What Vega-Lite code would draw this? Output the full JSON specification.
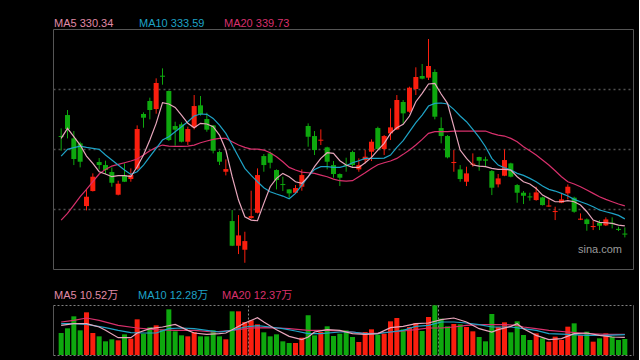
{
"$schema": "https://vega.github.io/schema/vega-lite/v6.json",
"background": "#000000",
"autosize": {"type": "pad"},
"padding": {"left": 42, "top": 17, "right": 5, "bottom": 4},
"bounds": "flush",
"spacing": 36,
"datasets": {
"k": [
{"i":1,"o":372.60,"h":376.21,"l":365.70,"c":372.10,"v":13.2,"m5":371.50,"m10":363.18,"m20":333.04},
{"i":2,"o":382.49,"h":384.85,"l":371.50,"c":375.90,"v":16.0,"m5":376.21,"m10":366.32,"m20":336.18},
{"i":3,"o":371.50,"h":374.96,"l":358.94,"c":361.77,"v":23.2,"m5":372.29,"m10":367.11,"m20":340.10},
{"i":4,"o":369.15,"h":369.93,"l":357.85,"c":360.51,"v":14.8,"m5":368.36,"m10":367.89,"m20":344.03},
{"i":5,"o":339.63,"h":347.64,"l":337.59,"c":344.03,"v":25.6,"m5":363.18,"m10":367.27,"m20":347.48},
{"i":6,"o":346.70,"h":355.02,"l":346.50,"c":353.45,"v":13.2,"m5":359.73,"m10":366.79,"m20":351.09},
{"i":7,"o":360.36,"h":362.24,"l":356.90,"c":358.94,"v":11.2,"m5":355.80,"m10":366.32,"m20":354.71},
{"i":8,"o":358.94,"h":360.99,"l":354.71,"c":356.59,"v":8.2,"m5":354.71,"m10":363.65,"m20":356.90},
{"i":9,"o":355.65,"h":357.85,"l":348.74,"c":350.62,"v":9.4,"m5":353.45,"m10":361.30,"m20":358.47},
{"i":10,"o":344.97,"h":351.57,"l":344.66,"c":350.15,"v":8.8,"m5":353.92,"m10":358.94,"m20":359.26},
{"i":11,"o":354.08,"h":359.73,"l":350.94,"c":351.09,"v":12.4,"m5":353.92,"m10":356.59,"m20":360.04},
{"i":12,"o":352.35,"h":357.37,"l":351.09,"c":354.23,"v":9.8,"m5":353.45,"m10":354.55,"m20":360.83},
{"i":13,"o":357.22,"h":377.63,"l":356.59,"c":375.90,"v":21.4,"m5":358.16,"m10":355.80,"m20":361.77},
{"i":14,"o":382.97,"h":383.75,"l":376.53,"c":381.24,"v":12.8,"m5":363.65,"m10":358.94,"m20":363.65},
{"i":15,"o":389.09,"h":390.66,"l":380.45,"c":384.85,"v":16.6,"m5":370.72,"m10":362.87,"m20":365.70},
{"i":16,"o":385.32,"h":399.76,"l":383.12,"c":397.57,"v":17.8,"m5":378.57,"m10":366.79,"m20":367.27},
{"i":17,"o":401.02,"h":404.47,"l":396.78,"c":400.52,"v":15.2,"m5":388.30,"m10":370.72,"m20":368.36},
{"i":18,"o":393.80,"h":394.00,"l":370.25,"c":370.72,"v":27.4,"m5":387.68,"m10":372.29,"m20":367.89},
{"i":19,"o":377.31,"h":379.35,"l":368.05,"c":375.59,"v":14.2,"m5":386.11,"m10":374.64,"m20":367.74},
{"i":20,"o":378.10,"h":379.04,"l":369.62,"c":369.93,"v":11.8,"m5":382.49,"m10":377.00,"m20":367.74},
{"i":21,"o":369.93,"h":377.00,"l":368.36,"c":375.90,"v":11.2,"m5":378.57,"m10":379.35,"m20":367.89},
{"i":22,"o":376.69,"h":391.91,"l":375.74,"c":386.73,"v":13.8,"m5":376.53,"m10":382.02,"m20":368.36},
{"i":23,"o":387.05,"h":391.44,"l":382.18,"c":382.97,"v":11.2,"m5":378.57,"m10":382.97,"m20":369.46},
{"i":24,"o":380.61,"h":383.59,"l":374.64,"c":375.59,"v":11.2,"m5":378.26,"m10":382.81,"m20":370.25},
{"i":25,"o":377.63,"h":377.80,"l":364.44,"c":365.70,"v":14.8,"m5":377.00,"m10":380.92,"m20":371.03},
{"i":26,"o":365.07,"h":365.70,"l":358.94,"c":360.51,"v":11.2,"m5":373.07,"m10":377.78,"m20":371.50},
{"i":27,"o":355.80,"h":361.61,"l":354.08,"c":357.06,"v":9.4,"m5":366.01,"m10":373.86,"m20":371.50},
{"i":28,"o":332.57,"h":337.75,"l":320.79,"c":320.95,"v":26.2,"m5":353.45,"m10":368.36,"m20":369.93},
{"i":29,"o":320.95,"h":335.39,"l":317.03,"c":325.82,"v":26.2,"m5":342.46,"m10":362.87,"m20":368.36},
{"i":30,"o":319.07,"h":327.54,"l":312.94,"c":323.15,"v":19.8,"m5":334.61,"m10":357.37,"m20":367.27},
{"i":31,"o":333.98,"h":346.86,"l":333.67,"c":334.92,"v":20.8,"m5":333.04,"m10":354.08,"m20":366.48},
{"i":32,"o":336.49,"h":357.37,"l":336.18,"c":354.23,"v":18.4,"m5":332.73,"m10":351.09,"m20":366.48},
{"i":33,"o":363.18,"h":364.13,"l":355.80,"c":358.94,"v":13.6,"m5":340.89,"m10":348.27,"m20":366.01},
{"i":34,"o":364.44,"h":365.22,"l":357.37,"c":360.04,"v":11.2,"m5":348.74,"m10":346.38,"m20":364.75},
{"i":35,"o":356.59,"h":356.90,"l":347.48,"c":351.88,"v":12.4,"m5":352.66,"m10":345.29,"m20":362.87},
{"i":36,"o":350.00,"h":353.45,"l":346.70,"c":349.53,"v":8.2,"m5":355.02,"m10":344.34,"m20":360.51},
{"i":37,"o":347.48,"h":347.60,"l":343.56,"c":345.60,"v":7.2,"m5":353.45,"m10":343.09,"m20":357.85},
{"i":38,"o":345.91,"h":349.53,"l":345.60,"c":348.11,"v":7.2,"m5":351.09,"m10":345.60,"m20":356.59},
{"i":39,"o":348.74,"h":356.90,"l":346.86,"c":354.23,"v":10.4,"m5":350.31,"m10":349.52,"m20":355.65},
{"i":40,"o":377.31,"h":378.57,"l":367.58,"c":372.29,"v":23.8,"m5":353.45,"m10":353.45,"m20":355.33},
{"i":41,"o":372.60,"h":374.96,"l":363.66,"c":366.01,"v":11.8,"m5":358.16,"m10":356.90,"m20":355.02},
{"i":42,"o":370.40,"h":375.74,"l":368.36,"c":370.88,"v":13.8,"m5":362.08,"m10":358.16,"m20":354.23},
{"i":43,"o":367.27,"h":367.58,"l":356.90,"c":360.51,"v":17.2,"m5":364.75,"m10":358.16,"m20":353.45},
{"i":44,"o":358.94,"h":360.83,"l":352.98,"c":354.71,"v":11.4,"m5":364.44,"m10":357.85,"m20":352.35},
{"i":45,"o":354.71,"h":355.02,"l":349.05,"c":352.98,"v":12.8,"m5":360.99,"m10":357.85,"m20":351.57},
{"i":46,"o":359.10,"h":362.40,"l":355.80,"c":358.60,"v":14.8,"m5":358.94,"m10":358.63,"m20":351.41},
{"i":47,"o":365.07,"h":365.70,"l":358.16,"c":358.94,"v":10.8,"m5":357.85,"m10":360.04,"m20":351.57},
{"i":48,"o":356.90,"h":362.08,"l":355.80,"c":358.94,"v":7.8,"m5":357.85,"m10":360.99,"m20":353.45},
{"i":49,"o":361.30,"h":366.01,"l":359.73,"c":362.87,"v":13.8,"m5":360.04,"m10":362.08,"m20":355.33},
{"i":50,"o":365.22,"h":371.03,"l":360.83,"c":369.93,"v":15.4,"m5":362.56,"m10":362.08,"m20":357.37},
{"i":51,"o":376.37,"h":377.00,"l":366.01,"c":366.48,"v":12.2,"m5":366.01,"m10":362.08,"m20":359.10},
{"i":52,"o":366.48,"h":373.07,"l":363.66,"c":372.60,"v":12.8,"m5":369.15,"m10":362.24,"m20":360.04},
{"i":53,"o":373.86,"h":385.63,"l":370.72,"c":376.69,"v":20.2,"m5":373.86,"m10":363.65,"m20":360.83},
{"i":54,"o":375.74,"h":391.91,"l":375.43,"c":389.56,"v":22.2,"m5":376.53,"m10":367.27,"m20":362.08},
{"i":55,"o":388.62,"h":389.56,"l":378.26,"c":383.28,"v":15.4,"m5":378.10,"m10":370.41,"m20":363.97},
{"i":56,"o":384.06,"h":395.84,"l":383.59,"c":395.37,"v":16.8,"m5":382.02,"m10":374.64,"m20":366.01},
{"i":57,"o":394.74,"h":404.95,"l":391.91,"c":400.39,"v":19.2,"m5":388.77,"m10":378.88,"m20":368.36},
{"i":58,"o":400.86,"h":406.52,"l":399.29,"c":399.61,"v":14.4,"m5":392.70,"m10":382.49,"m20":371.03},
{"i":59,"o":400.08,"h":418.29,"l":398.98,"c":405.57,"v":22.8,"m5":397.10,"m10":386.73,"m20":373.86},
{"i":60,"o":402.75,"h":404.00,"l":380.45,"c":381.71,"v":29.8,"m5":397.41,"m10":387.99,"m20":374.64},
{"i":61,"o":376.37,"h":381.40,"l":369.15,"c":372.60,"v":21.8,"m5":392.39,"m10":388.15,"m20":374.64},
{"i":62,"o":372.60,"h":373.07,"l":362.08,"c":362.56,"v":17.2,"m5":387.99,"m10":387.68,"m20":374.64},
{"i":63,"o":359.89,"h":366.01,"l":355.80,"c":360.40,"v":18.6,"m5":377.00,"m10":385.16,"m20":374.96},
{"i":64,"o":356.90,"h":358.94,"l":351.09,"c":352.35,"v":18.4,"m5":366.01,"m10":382.02,"m20":374.96},
{"i":65,"o":351.09,"h":358.16,"l":349.05,"c":355.02,"v":16.8,"m5":362.08,"m10":379.35,"m20":374.96},
{"i":66,"o":359.10,"h":364.44,"l":358.16,"c":359.60,"v":14.2,"m5":358.94,"m10":375.74,"m20":374.96},
{"i":67,"o":362.71,"h":362.87,"l":356.28,"c":360.99,"v":10.8,"m5":358.47,"m10":371.98,"m20":374.96},
{"i":68,"o":361.61,"h":362.87,"l":358.16,"c":360.99,"v":8.2,"m5":358.16,"m10":367.58,"m20":374.96},
{"i":69,"o":356.12,"h":356.59,"l":344.81,"c":348.27,"v":24.6,"m5":357.37,"m10":362.08,"m20":373.86},
{"i":70,"o":349.84,"h":354.71,"l":348.43,"c":352.66,"v":16.8,"m5":356.90,"m10":358.94,"m20":373.07},
{"i":71,"o":353.92,"h":366.32,"l":353.70,"c":361.30,"v":19.6,"m5":356.90,"m10":357.69,"m20":372.60},
{"i":72,"o":359.73,"h":360.04,"l":353.14,"c":353.45,"v":13.6,"m5":356.59,"m10":356.59,"m20":371.50},
{"i":73,"o":349.53,"h":350.00,"l":341.20,"c":345.91,"v":20.2,"m5":353.45,"m10":355.02,"m20":369.93},
{"i":74,"o":345.91,"h":346.70,"l":340.58,"c":344.50,"v":12.0,"m5":351.09,"m10":354.08,"m20":367.58},
{"i":75,"o":344.19,"h":345.91,"l":342.15,"c":343.70,"v":9.0,"m5":350.00,"m10":352.66,"m20":365.70},
{"i":76,"o":342.46,"h":348.74,"l":342.15,"c":346.07,"v":13.0,"m5":347.95,"m10":351.09,"m20":363.65},
{"i":77,"o":343.72,"h":344.03,"l":339.90,"c":340.10,"v":10.0,"m5":344.81,"m10":349.05,"m20":361.30},
{"i":78,"o":339.40,"h":342.77,"l":339.32,"c":339.90,"v":8.0,"m5":343.24,"m10":347.48,"m20":358.94},
{"i":79,"o":336.81,"h":339.32,"l":333.04,"c":337.30,"v":11.0,"m5":341.67,"m10":346.70,"m20":356.28},
{"i":80,"o":341.20,"h":345.60,"l":341.00,"c":342.77,"v":9.0,"m5":341.67,"m10":345.60,"m20":353.45},
{"i":81,"o":345.60,"h":349.84,"l":342.77,"c":348.74,"v":17.0,"m5":342.15,"m10":344.34,"m20":351.09},
{"i":82,"o":343.56,"h":344.03,"l":336.49,"c":336.96,"v":19.0,"m5":341.67,"m10":342.77,"m20":350.00},
{"i":83,"o":333.20,"h":336.18,"l":333.04,"c":333.70,"v":12.0,"m5":340.10,"m10":341.67,"m20":348.74},
{"i":84,"o":333.35,"h":333.82,"l":328.02,"c":331.16,"v":14.0,"m5":336.96,"m10":340.58,"m20":347.17},
{"i":85,"o":329.74,"h":332.73,"l":328.33,"c":330.24,"v":8.0,"m5":333.04,"m10":339.32,"m20":345.60},
{"i":86,"o":331.78,"h":333.04,"l":328.33,"c":330.37,"v":10.0,"m5":331.94,"m10":337.75,"m20":344.03},
{"i":87,"o":330.53,"h":334.30,"l":330.22,"c":333.35,"v":13.0,"m5":331.78,"m10":336.96,"m20":342.77},
{"i":88,"o":331.78,"h":334.30,"l":329.12,"c":331.16,"v":11.0,"m5":331.47,"m10":336.18,"m20":341.67},
{"i":89,"o":328.90,"h":329.90,"l":327.86,"c":328.40,"v":9.0,"m5":330.68,"m10":335.24,"m20":340.58},
{"i":90,"o":326.70,"h":329.59,"l":324.88,"c":326.20,"v":9.6,"m5":330.34,"m10":333.59,"m20":339.73}
],
"vm5": [
{"i":1,"v":17.8},{"i":3,"v":18.8},{"i":5,"v":18.8},{"i":7,"v":16.8},{"i":8,"v":14.8},{"i":10,"v":10.4},{"i":12,"v":10.4},{"i":13,"v":13.2},{"i":15,"v":15.8},{"i":17,"v":16.8},{"i":19,"v":18.4},{"i":21,"v":14.8},{"i":22,"v":13.2},{"i":24,"v":12.4},{"i":26,"v":12.8},{"i":27,"v":13.2},{"i":28,"v":15.2},{"i":30,"v":19.2},{"i":32,"v":22.4},{"i":33,"v":19.8},{"i":35,"v":15.2},{"i":37,"v":11.2},{"i":39,"v":9.2},{"i":40,"v":10.8},{"i":41,"v":13.8},{"i":43,"v":15.2},{"i":45,"v":14.8},{"i":47,"v":12.8},{"i":49,"v":12.4},{"i":51,"v":12.8},{"i":53,"v":16.4},{"i":55,"v":17.2},{"i":57,"v":18.8},{"i":59,"v":19.2},{"i":61,"v":21.2},{"i":63,"v":22.2},{"i":65,"v":19.8},{"i":67,"v":15.8},{"i":69,"v":13.8},{"i":70,"v":15.2},{"i":72,"v":17.2},{"i":73,"v":18.8},{"i":74,"v":15.8},{"i":76,"v":11.8},{"i":78,"v":9.2},{"i":80,"v":9.8},{"i":82,"v":12.8},{"i":84,"v":13.2},{"i":86,"v":11.8},{"i":88,"v":10.8},{"i":90,"v":10.52}
],
"vm10": [
{"i":1,"v":18.8},{"i":3,"v":18.8},{"i":5,"v":18.4},{"i":8,"v":16.4},{"i":10,"v":14.8},{"i":12,"v":13.4},{"i":14,"v":13.2},{"i":16,"v":13.2},{"i":18,"v":15.8},{"i":20,"v":16.2},{"i":22,"v":15.8},{"i":24,"v":14.8},{"i":26,"v":13.8},{"i":28,"v":14.8},{"i":30,"v":16.8},{"i":32,"v":17.6},{"i":34,"v":16.8},{"i":36,"v":15.8},{"i":38,"v":14.4},{"i":40,"v":12.8},{"i":42,"v":12.8},{"i":45,"v":13.8},{"i":47,"v":13.8},{"i":49,"v":12.8},{"i":51,"v":12.8},{"i":53,"v":13.8},{"i":55,"v":14.8},{"i":57,"v":17.2},{"i":59,"v":17.8},{"i":61,"v":19.8},{"i":63,"v":19.8},{"i":65,"v":19.2},{"i":67,"v":18.2},{"i":69,"v":16.8},{"i":72,"v":16.8},{"i":74,"v":15.8},{"i":76,"v":14.8},{"i":78,"v":12.8},{"i":81,"v":12.4},{"i":84,"v":11.8},{"i":87,"v":11.8},{"i":90,"v":12.28}
],
"vm20": [
{"i":1,"v":19.8},{"i":3,"v":20.8},{"i":5,"v":22.2},{"i":7,"v":20.8},{"i":10,"v":17.8},{"i":13,"v":16.2},{"i":16,"v":15.2},{"i":19,"v":14.8},{"i":22,"v":14.8},{"i":25,"v":13.8},{"i":28,"v":14.8},{"i":31,"v":16.2},{"i":34,"v":16.4},{"i":37,"v":15.8},{"i":40,"v":14.8},{"i":43,"v":14.8},{"i":45,"v":14.4},{"i":47,"v":13.8},{"i":49,"v":12.8},{"i":51,"v":13.2},{"i":53,"v":13.8},{"i":55,"v":14.4},{"i":57,"v":15.2},{"i":59,"v":16.2},{"i":61,"v":16.2},{"i":63,"v":16.8},{"i":65,"v":17.8},{"i":67,"v":18.2},{"i":69,"v":18.2},{"i":71,"v":18.2},{"i":73,"v":17.8},{"i":74,"v":16.8},{"i":76,"v":15.8},{"i":78,"v":14.8},{"i":81,"v":13.8},{"i":84,"v":12.8},{"i":87,"v":12.4},{"i":90,"v":12.37}
]
},
"vconcat": [
{
"width": 580, "height": 240,
"view": {"stroke": "#555555"},
"title": {"text": "sina.com", "orient": "bottom", "anchor": "end", "frame": "group", "offset": -25, "dx": -11, "color": "#9a9a9a", "fontSize": 11, "font": "Liberation Sans", "fontWeight": "normal", "baseline": "top"},
"data": {"name": "k"},
"encoding": {"x": {"field": "i", "type": "quantitative", "scale": {"domain": [0.5, 90.5], "nice": false, "zero": false}, "axis": null}},
"layer": [
{"mark": {"type": "rule", "strokeWidth": 1},
 "encoding": {
  "y": {"field": "l", "type": "quantitative", "scale": {"domain": [310, 423], "nice": false, "zero": false},
        "axis": {"values": [338.25, 366.5, 394.75], "grid": true, "gridDash": [2, 3], "gridColor": "#505050", "gridWidth": 1.5, "labels": false, "ticks": false, "domain": false, "title": null}},
  "y2": {"field": "h"},
  "color": {"condition": {"test": "datum.c >= datum.o", "value": "#fa1e0e"}, "value": "#0ea80e"}}},
{"mark": {"type": "bar", "size": 5},
 "encoding": {
  "y": {"field": "o", "type": "quantitative"},
  "y2": {"field": "c"},
  "color": {"condition": {"test": "datum.c >= datum.o", "value": "#fa1e0e"}, "value": "#0ea80e"}}},
{"mark": {"type": "line", "strokeWidth": 1.2},
 "encoding": {
  "y": {"field": "m20", "type": "quantitative"},
  "color": {"datum": "MA20 339.73", "type": "nominal",
    "scale": {"domain": ["MA5 330.34", "MA10 333.59", "MA20 339.73"], "range": ["#e8a6bc", "#1ea3c6", "#d8306c"]},
    "legend": {"orient": "none", "legendX": -10, "legendY": -11, "direction": "horizontal", "columnPadding": 8, "gridAlign": "all",
      "encode": {"labels": {"update": {"fill": {"signal": "['#e08aa6','#1ea3c6','#d8306c'][datum.index]"}}}}}}}},
{"mark": {"type": "line", "strokeWidth": 1.2},
 "encoding": {"y": {"field": "m10", "type": "quantitative"}, "color": {"datum": "MA10 333.59", "type": "nominal"}}},
{"mark": {"type": "line", "strokeWidth": 1.2},
 "encoding": {"y": {"field": "m5", "type": "quantitative"}, "color": {"datum": "MA5 330.34", "type": "nominal"}}}
]
},
{
"width": 580, "height": 50,
"view": {"stroke": "#808080", "strokeDash": [2, 2]},
"encoding": {"x": {"field": "i", "type": "quantitative", "scale": {"domain": [0.5, 90.5], "nice": false, "zero": false},
  "axis": {"values": [30.5, 60.5], "grid": true, "gridDash": [2, 2], "gridColor": "#8a8a8a", "labels": false, "ticks": false, "domain": false, "title": null}}},
"layer": [
{"data": {"name": "k"}, "mark": {"type": "bar", "size": 5},
 "encoding": {
  "y": {"field": "v", "type": "quantitative", "scale": {"domain": [0, 30], "nice": false},
        "axis": {"orient": "left", "domain": true, "domainColor": "#555555", "grid": false, "labels": false, "ticks": false, "title": null}},
  "color": {"condition": {"test": "datum.c >= datum.o", "value": "#fa1e0e"}, "value": "#0ea80e"}}},
{"data": {"name": "vm20"}, "mark": {"type": "line", "strokeWidth": 1.2},
 "encoding": {
  "y": {"field": "v", "type": "quantitative", "axis": {"orient": "right", "domain": true, "domainColor": "#555555", "grid": false, "labels": false, "ticks": false, "title": null}},
  "color": {"datum": "MA20 12.37万", "type": "nominal",
    "scale": {"domain": ["MA5 10.52万", "MA10 12.28万", "MA20 12.37万"], "range": ["#e8a6bc", "#1ea3c6", "#d8306c"]},
    "legend": {"orient": "none", "legendX": -10, "legendY": -15, "direction": "horizontal", "columnPadding": 2, "gridAlign": "all",
      "encode": {"labels": {"update": {"fill": {"signal": "['#e08aa6','#1ea3c6','#d8306c'][datum.index]"}}}}}}}},
{"data": {"name": "vm10"}, "mark": {"type": "line", "strokeWidth": 1.2},
 "encoding": {"y": {"field": "v", "type": "quantitative", "axis": null}, "color": {"datum": "MA10 12.28万", "type": "nominal"}}},
{"data": {"name": "vm5"}, "mark": {"type": "line", "strokeWidth": 1.2},
 "encoding": {"y": {"field": "v", "type": "quantitative", "axis": null}, "color": {"datum": "MA5 10.52万", "type": "nominal"}}}
],
"resolve": {"axis": {"y": "independent"}}
}
],
"resolve": {"scale": {"color": "independent", "y": "independent"}, "legend": {"color": "independent"}},
"config": {
"legend": {"title": null, "symbolSize": 0, "symbolOpacity": 0, "symbolStrokeWidth": 0, "labelOffset": 0, "padding": 0, "labelFontSize": 11, "labelFont": "Liberation Sans, Noto Sans CJK SC, sans-serif", "labelColor": "#e08aa6"},
"axis": {"labels": false, "ticks": false, "title": null}
}
}
